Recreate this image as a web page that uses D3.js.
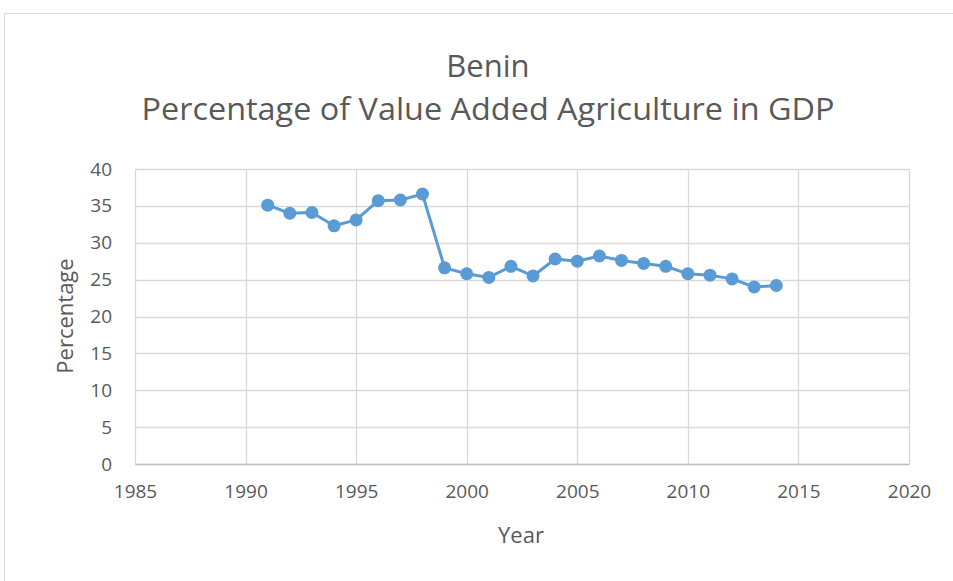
<!DOCTYPE html>
<html><head><meta charset="utf-8">
<script src="https://cdn.jsdelivr.net/npm/d3@7"></script>
<style>body{margin:0;background:#fff;}svg{display:block;}</style>
</head><body>
<svg id="c" width="953" height="581"></svg>
<script>
const years = [1991,1992,1993,1994,1995,1996,1997,1998,1999,2000,2001,2002,2003,2004,2005,2006,2007,2008,2009,2010,2011,2012,2013,2014];
const values = [35.1,34.0,34.1,32.3,33.1,35.7,35.8,36.6,26.6,25.8,25.3,26.8,25.5,27.8,27.5,28.2,27.6,27.2,26.8,25.8,25.6,25.1,24.0,24.2];
const xTicks = [1985,1990,1995,2000,2005,2010,2015,2020];
const yTicks = [0,5,10,15,20,25,30,35,40];
const titleLines = ["Benin","Percentage of Value Added Agriculture in GDP"];

const svg = d3.select("#c");
const font = "'Open Sans', 'Noto Sans', sans-serif";
const txt = "#595959", grid = "#d9d9d9", blue = "#5B9BD5";

svg.append("rect").attr("x",4.5).attr("y",13.5).attr("width",1000).attr("height",1000)
  .attr("fill","#fff").attr("stroke","#d9d9d9").attr("stroke-width",1);

const x = d3.scaleLinear().domain([1985,2020]).range([135,909]);
const y = d3.scaleLinear().domain([0,40]).range([464,169]);

svg.append("g").selectAll("line").data(yTicks).join("line")
  .attr("x1",x(1985)).attr("x2",x(2020)).attr("y1",d=>Math.round(y(d))+0.5).attr("y2",d=>Math.round(y(d))+0.5)
  .attr("stroke",grid).attr("stroke-width",1.3);
svg.append("g").selectAll("line").data(xTicks).join("line")
  .attr("y1",y(0)).attr("y2",y(40)).attr("x1",d=>Math.round(x(d))+0.5).attr("x2",d=>Math.round(x(d))+0.5)
  .attr("stroke",grid).attr("stroke-width",1.3);

const ax = svg.append("g").attr("transform",`translate(0,${y(0)})`)
  .call(d3.axisBottom(x).tickValues(xTicks).tickFormat(d3.format("d")).tickSize(0).tickPadding(21));
ax.select(".domain").attr("stroke","#bfbfbf").attr("stroke-width",1.3);
ax.selectAll("text").attr("fill",txt).attr("font-family",font).attr("font-size",19);

const ay = svg.append("g").attr("transform",`translate(${x(1985)},0)`)
  .call(d3.axisLeft(y).tickValues(yTicks).tickSize(0).tickPadding(23));
ay.select(".domain").remove();
ay.selectAll("text").attr("fill",txt).attr("font-family",font).attr("font-size",19);

const data = years.map((yr,i)=>({yr,v:values[i]}));
svg.append("path").datum(data).attr("fill","none").attr("stroke",blue).attr("stroke-width",3)
  .attr("stroke-linejoin","round").attr("d",d3.line().x(d=>x(d.yr)).y(d=>y(d.v)));
svg.append("g").selectAll("circle").data(data).join("circle")
  .attr("cx",d=>x(d.yr)).attr("cy",d=>y(d.v)).attr("r",6.5).attr("fill",blue);

svg.append("text").attr("x",488).attr("y",77).attr("text-anchor","middle")
  .attr("font-family",font).attr("font-size",31).attr("fill",txt).text(titleLines[0]);
svg.append("text").attr("x",488).attr("y",120).attr("text-anchor","middle")
  .attr("font-family",font).attr("font-size",31).attr("fill",txt)
  .attr("textLength",693).attr("lengthAdjust","spacingAndGlyphs").text(titleLines[1]);

svg.append("text").attr("x",521).attr("y",543).attr("text-anchor","middle")
  .attr("font-family",font).attr("font-size",22).attr("fill",txt).text("Year");
svg.append("text").attr("transform","translate(73,316) rotate(-90)").attr("text-anchor","middle")
  .attr("font-family",font).attr("font-size",22).attr("fill",txt).text("Percentage");
</script>
</body></html>
